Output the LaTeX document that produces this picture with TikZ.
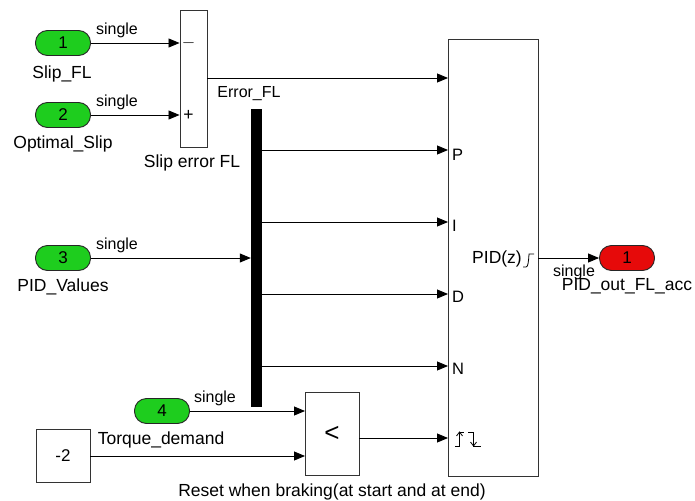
\documentclass[tikz,border=0pt]{standalone}
\usepackage{fontspec}
\setmainfont{Liberation Sans}
\usetikzlibrary{arrows.meta,shadows,calc}
\definecolor{ingreen}{RGB}{30,205,30}
\definecolor{outred}{RGB}{230,10,10}
\tikzset{
  blk/.style={draw=black!80, line width=0.9pt, fill=white, drop shadow={shadow xshift=1.2pt, shadow yshift=-1.2pt, opacity=0.25}},
  port/.style={draw=black!85, line width=0.9pt, rounded corners=12pt, minimum width=55pt, minimum height=25pt, inner sep=0pt, font=\fontsize{17}{19}\selectfont},
  inport/.style={port, fill=ingreen},
  outport/.style={port, fill=outred},
  sig/.style={line width=0.85pt, -{Triangle[length=11pt,width=9pt]}},
  lbl/.style={font=\fontsize{17.5}{20}\selectfont, inner sep=0pt},
  slbl/.style={font=\fontsize{16}{18}\selectfont, inner sep=0pt},
  plbl/.style={font=\fontsize{16.5}{18}\selectfont, inner sep=0pt, anchor=west},
}
\begin{document}
\begin{tikzpicture}[x=1pt,y=-1pt]
\useasboundingbox (0,0) rectangle (695,500);
% blocks
\node[inport] (in1) at (63,43) {1};
\node[inport] (in2) at (63,115) {2};
\node[inport] (in3) at (63,258) {3};
\node[inport] (in4) at (162,411) {4};
\node[outport] (out1) at (627,258) {1};
\node[blk, minimum width=27pt, minimum height=137pt, inner sep=0pt] (sum) at (193.5,78.5) {};
\node[fill=black, minimum width=11pt, minimum height=298pt, inner sep=0pt] (demux) at (256.5,258) {};
\node[blk, minimum width=90pt, minimum height=437pt, inner sep=0pt] (pid) at (493,257.5) {};
\node[blk, minimum width=54pt, minimum height=83pt, inner sep=0pt, font=\fontsize{26}{28}\selectfont] (cmp) at (332,433.5) {<};
\node[blk, minimum width=54pt, minimum height=53pt, inner sep=0pt, font=\fontsize{17}{19}\selectfont] (const) at (63,455.5) {-2};
% coordinates on PID inputs
\coordinate (pE) at (448,78);
\coordinate (pP) at (448,150);
\coordinate (pI) at (448,222);
\coordinate (pD) at (448,294);
\coordinate (pN) at (448,366);
\coordinate (pR) at (448,438);
\coordinate (cmpA) at (305,411);
\coordinate (cmpB) at (305,456);
% connectors
\draw[sig] (in1.east) -- (in1.east -| sum.west);
\draw[sig] (in2.east) -- (in2.east -| sum.west);
\draw[sig] (pE -| sum.east) -- (pE);
\draw[sig] (in3.east) -- (in3.east -| demux.west);
\draw[sig] (pP -| demux.east) -- (pP);
\draw[sig] (pI -| demux.east) -- (pI);
\draw[sig] (pD -| demux.east) -- (pD);
\draw[sig] (pN -| demux.east) -- (pN);
\draw[sig] (in4.east) -- (cmpA);
\draw[sig] (cmpB -| const.east) -- (cmpB);
\draw[sig] (pR -| cmp.east) -- (pR);
\draw[sig] (pid.east |- out1.west) -- (out1.west);
% labels
\node[slbl] (s1) at (117,30) {single};
\node[slbl] (s2) at (117,102) {single};
\node[slbl] (s3) at (117,245) {single};
\node[slbl] (s4) at (215,398) {single};
\node[slbl] (s5) at (574,272) {single};
\node[lbl] (l1) at (62,74) {Slip\_FL};
\node[lbl] (l2) at (63,144) {Optimal\_Slip};
\node[lbl] (l3) at (63,287) {PID\_Values};
\node[lbl] (l4) at (161,440) {Torque\_demand};
\node[slbl] (l5) at (249,94) {Error\_FL};
\node[lbl] (l6) at (192,163) {Slip error FL};
\node[lbl] (l7) at (627,286) {PID\_out\_FL\_acc};
\node[lbl] (l8) at (332,492) {Reset when braking(at start and at end)};
\node[lbl] (minus) at (188.5,43) {$-$};
\node[lbl] (plus) at (188.5,115) {+};
\node[plbl] (tP) at (452,155) {P};
\node[plbl] (tI) at (452,226) {I};
\node[plbl] (tD) at (452,297) {D};
\node[plbl] (tN) at (452,369) {N};
\node[lbl, anchor=east] (tpid) at (522,259) {PID(z)};
% PID symbol
\draw[line width=0.8pt] (523,267) -- (526,267) .. controls (528,267) and (528.5,262) .. (529,254) -- (534,254);
% reset symbol
\draw[line width=0.8pt] (455,446) -- (459.5,446) -- (459.5,432) -- (464,432);
\draw[line width=0.8pt] (456.5,436) -- (459.5,432) -- (462.5,436);
\draw[line width=0.8pt] (468,432) -- (473.5,432) -- (473.5,446) -- (481,446);
\draw[line width=0.8pt] (470.5,442) -- (473.5,446) -- (476.5,442);
\end{tikzpicture}
\end{document}
